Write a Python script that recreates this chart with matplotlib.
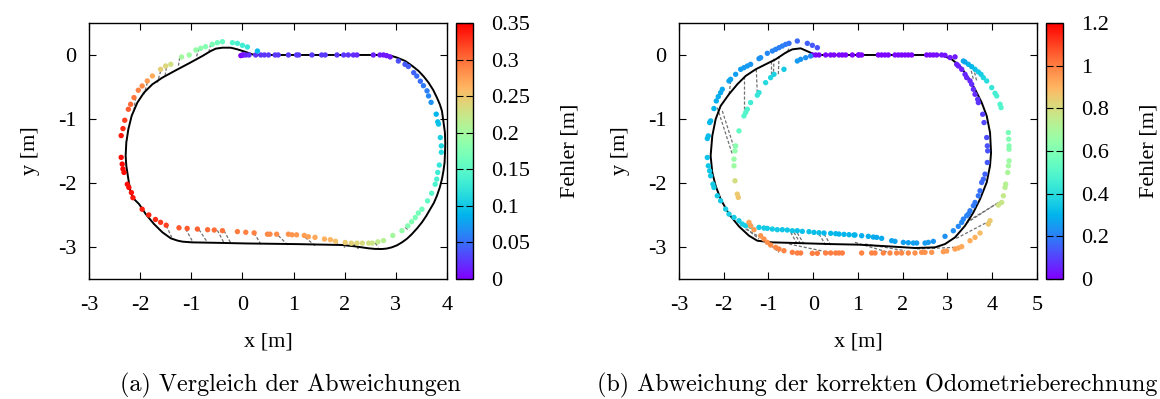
import matplotlib
matplotlib.use("Agg")
import matplotlib.pyplot as plt
import numpy as np

plt.rcParams['font.family'] = ['Liberation Serif', 'DejaVu Serif']
plt.rcParams['axes.unicode_minus'] = False

# ---------------- Panel (a) ----------------
track_a_x = [0.26, 0.196, 0.066, -0.097, -0.228, -0.39, -0.52, -0.619, -0.782, -1.043, -1.304,
             -1.565, -1.76, -1.924, -2.054, -2.165, -2.23, -2.27, -2.283, -2.27, -2.23, -2.185,
             -2.12, -2.02, -1.89, -1.73, -1.565, -1.40, -1.27, -1.17, -0.98, -0.5, 0.085, 1.06,
             1.945, 2.2, 2.33, 2.46, 2.59, 2.725, 2.82, 2.92, 3.02, 3.12, 3.22, 3.315, 3.415,
             3.51, 3.595, 3.673, 3.745, 3.804, 3.86, 3.902, 3.932, 3.954, 3.962, 3.967, 3.96,
             3.934, 3.902, 3.86, 3.804, 3.73, 3.64, 3.55, 3.445, 3.32, 3.184, 3.02, 2.923, 2.83,
             0.26]
track_a_y = [0.0, 0.01, 0.047, 0.088, 0.114, 0.114, 0.099, 0.062, -0.016, -0.13, -0.24,
             -0.354, -0.458, -0.588, -0.744, -0.95, -1.16, -1.368, -1.576, -1.73, -1.94, -2.15,
             -2.25, -2.33, -2.486, -2.64, -2.77, -2.865, -2.90, -2.917, -2.928, -2.935, -2.945,
             -2.955, -2.969, -2.99, -3.005, -3.02, -3.03, -3.032, -3.025, -3.006, -2.975, -2.928,
             -2.87, -2.798, -2.71, -2.616, -2.515, -2.408, -2.31, -2.2, -2.07, -1.94, -1.81,
             -1.68, -1.53, -1.368, -1.21, -1.056, -0.874, -0.77, -0.666, -0.545, -0.432, -0.34,
             -0.25, -0.17, -0.094, -0.04, -0.016, 0.0, 0.0]

pts_a_x = [-0.03, 0.0, 0.02, 0.07, 0.13, 0.26, 0.36, 0.43, 0.51, 0.64, 0.70, 0.90, 1.06, 1.10,
           1.36, 1.55, 1.62, 1.85, 1.98, 2.07, 2.17, 2.24, 2.56, 2.69, 2.76, 2.82, 2.89,
           3.05, 3.18, 3.245, 3.35, 3.41, 3.48, 3.54, 3.61, 3.64, 3.69, 3.79, 3.82, 3.835, 3.87,
           3.89, 3.89, 3.85, 3.82, 3.80, 3.77, 3.70, 3.62, 3.51, 3.44, 3.38, 3.31, 3.235, 3.12,
           2.94, 2.76, 2.65, 2.54, 2.47, 2.345, 2.24, 2.13, 2.01, 1.82, 1.72, 1.605, 1.42, 1.29,
           1.21, 1.06, 0.97, 0.90, 0.67, 0.54,
           0.49, 0.23, 0.066, -0.097, -0.39, -0.55, -0.68, -0.88, -1.08, -1.24, -1.49, -1.60,
           -1.70, -1.83, -1.96, -2.14, -2.17, -2.22, -2.25, -2.315, -2.335, -2.35, -2.37, -2.37,
           -2.335, -2.30, -2.23, -2.185, -2.12, -2.035, -1.96, -1.86, -1.76, -1.60, -1.50, -1.40,
           -1.19, -1.04, -0.91, -0.815, -0.72, -0.59, -0.49, -0.39, -0.195, -0.097, 0.0, 0.098,
           0.294]
pts_a_y = [-0.01, 0.0, 0.0, 0.0, 0.0, 0.0, 0.0, 0.0, 0.0, 0.0, 0.0, 0.0, 0.0, 0.0,
           0.0, 0.0, 0.0, 0.0, 0.0, 0.0, 0.0, 0.0, 0.0, 0.0, 0.0, -0.01, -0.03,
           -0.094, -0.146, -0.18, -0.276, -0.33, -0.41, -0.48, -0.56, -0.64, -0.74, -0.925, -1.045,
           -1.08, -1.29, -1.42, -1.52, -1.72, -1.835, -1.94, -2.02, -2.16, -2.28, -2.41, -2.47,
           -2.54, -2.605, -2.67, -2.745, -2.82, -2.90, -2.92, -2.94, -2.94, -2.94, -2.94, -2.94,
           -2.93, -2.91, -2.886, -2.876, -2.85, -2.84, -2.82, -2.81, -2.81, -2.80, -2.80, -2.80,
           -2.80, -2.78, -2.77, -2.76, -2.745, -2.735, -2.73, -2.72, -2.71, -2.70, -2.66, -2.615,
           -2.57, -2.50, -2.41, -2.23, -2.15, -2.07, -2.02, -1.835, -1.78, -1.705, -1.60, -1.26,
           -1.15, -1.02, -0.848, -0.77, -0.666, -0.551, -0.484, -0.406, -0.328, -0.224, -0.172,
           -0.146, -0.031, 0.0, 0.078, 0.104, 0.130, 0.166, 0.192, 0.208, 0.192, 0.182, 0.151,
           0.125, 0.062]
err_a = [0.002, 0.004, 0.008, 0.015, 0.02, 0.022, 0.024, 0.024, 0.025, 0.025, 0.025, 0.026,
         0.026, 0.026, 0.026, 0.026, 0.026, 0.025, 0.024, 0.022, 0.02, 0.018, 0.015, 0.012,
         0.01, 0.01, 0.012,
         0.035, 0.04, 0.042, 0.045, 0.048, 0.05, 0.055, 0.058, 0.062, 0.068, 0.088, 0.093,
         0.096, 0.108, 0.112, 0.116, 0.125, 0.13, 0.137, 0.14, 0.148, 0.155, 0.163, 0.167,
         0.172, 0.176, 0.18, 0.19, 0.2, 0.212, 0.22, 0.225, 0.23, 0.235, 0.238, 0.242, 0.248,
         0.255, 0.26, 0.265, 0.27, 0.273, 0.275, 0.278, 0.28, 0.282, 0.285, 0.286,
         0.287, 0.29, 0.29, 0.293, 0.297, 0.3, 0.3, 0.305, 0.31, 0.31, 0.32, 0.325, 0.33,
         0.333, 0.336, 0.34, 0.342, 0.345, 0.345, 0.345, 0.345, 0.345, 0.345, 0.338, 0.332,
         0.322, 0.308, 0.302, 0.296, 0.29, 0.285, 0.277, 0.267, 0.245, 0.238, 0.23, 0.2,
         0.195, 0.19, 0.183, 0.178, 0.172, 0.165, 0.158, 0.145, 0.138, 0.133, 0.127, 0.092]

dash_a_x0 = [-0.619, -0.847, -1.226, -1.487, -1.597, -1.858, -2.087, -1.487, -1.108, -0.847,
             -0.489, -0.358, 0.229, 0.705, 1.227, 1.814, 2.173, 2.597, 3.184]
dash_a_y0 = [0.166, 0.099, -0.042, -0.198, -0.25, -0.432, -0.666, -2.668, -2.72, -2.73,
             -2.74, -2.746, -2.782, -2.824, -2.85, -2.917, -2.954, -2.938, -2.694]
dash_a_x1 = [-0.652, -0.90, -1.252, -1.513, -1.663, -1.924, -2.12, -1.382, -0.965, -0.684,
             -0.358, -0.228, 0.359, 0.888, 1.423, 2.01, 2.27, 2.662, 3.262]
dash_a_y1 = [0.062, -0.031, -0.172, -0.328, -0.432, -0.614, -0.848, -2.85, -2.928, -2.928,
             -2.938, -2.938, -2.954, -2.969, -2.98, -3.006, -3.03, -3.006, -2.746]

# ---------------- Panel (b) ----------------
track_b_x = [0.055, -0.094, -0.28, -0.466, -0.615, -0.839, -1.063, -1.286, -1.51, -1.696, -1.882,
             -2.069, -2.18, -2.255, -2.292, -2.255, -2.18, -2.069, -1.882, -1.659, -1.435, -1.249,
             -0.914, -0.392, 0.353, 1.024, 1.68, 2.276, 2.723, 2.946, 3.17, 3.394, 3.58, 3.729,
             3.878, 3.952, 3.975, 3.952, 3.878, 3.766, 3.617, 3.468, 3.282, 3.096, 2.872, 0.055]
track_b_y = [0.0, 0.047, 0.104, 0.088, 0.036, -0.068, -0.146, -0.224, -0.328, -0.458, -0.614,
             -0.796, -1.004, -1.264, -1.576, -1.836, -2.044, -2.252, -2.486, -2.678, -2.824, -2.902,
             -2.928, -2.938, -2.954, -2.964, -2.99, -3.016, -3.006, -2.954, -2.85, -2.668, -2.46,
             -2.252, -1.99, -1.732, -1.524, -1.212, -0.952, -0.744, -0.536, -0.354, -0.172, -0.068,
             0.0, 0.0]

pts_b_x = [-0.019, 0.055, 0.13, 0.279, 0.39, 0.465, 0.577, 0.651, 0.726, 0.875, 1.024, 1.009,
           1.083, 1.456, 1.53, 1.605, 1.679, 1.828, 1.903, 1.977, 2.052, 2.126, 2.201, 2.536,
           2.611, 2.685, 2.76, 2.872, 2.946, 3.058, 3.17,
           # outer upper-left arc
           0.093, -0.019, -0.131, -0.355, -0.541, -0.615, -0.69, -0.764, -0.839, -0.913, -1.025,
           -1.174, -1.211, -1.398, -1.472, -1.547, -1.621, -1.733, -1.845, -1.882, -2.031, -2.069,
           -2.121, -2.165, -2.218, -2.292, -2.314, -2.344, -2.366, -2.366, -2.344, -2.314, -2.292,
           -2.24, -2.218, -2.143, -2.069, -1.957, -1.882, -1.77, -1.659,
           # inner upper branch
           -0.355, -0.28, -0.168, -0.057, -0.653, -0.876, -0.951, -1.063, -1.211, -1.249, -1.398,
           -1.472, -1.51, -1.547, -1.659, -1.733, -1.748, -1.77, -1.77, -1.748, -1.696, -1.674,
           # bottom upper row
           -1.584, -1.51, -1.398, -1.211, -1.1, -1.025, -0.913, -0.802, -0.69, -0.578, -0.466,
           -0.355, -0.243, -0.094, 0.018, 0.13, 0.242, 0.391, 0.503, 0.577, 0.689, 0.801, 0.912,
           0.934, 1.083, 1.232, 1.344, 1.418, 1.53, 1.754, 1.828, 2.015, 2.126, 2.238, 2.313,
           2.499, 2.573, 2.685, 2.946,
           # bottom lower row
           -1.435, -1.398, -1.323, -1.174, -1.1, -1.025, -0.951, -0.839, -0.764, -0.653, -0.466,
           -0.355, -0.28, -0.019, 0.093, 0.279, 0.391, 0.503, 0.577, 0.651, 1.083, 1.307, 1.381,
           1.567, 1.716, 1.865, 1.977, 2.126, 2.275, 2.424, 2.499, 2.648, 2.909, 2.983, 3.17,
           3.244, 3.319,
           # right outer arc
           3.505, 3.617, 3.729, 3.915, 3.952, 4.138, 4.213, 4.25, 4.287, 4.302, 4.347, 4.362,
           4.377, 4.377, 4.377, 4.369, 4.362, 4.198, 4.176, 4.101, 4.064, 3.989, 3.878, 3.803,
           3.751, 3.691, 3.617, 3.542, 3.468, 3.393, 3.356,
           # right inner arc
           3.207, 3.244, 3.319, 3.393, 3.43, 3.505, 3.542, 3.58, 3.617, 3.676, 3.691, 3.788,
           3.818, 3.878, 3.892, 3.9, 3.892, 3.84, 3.803, 3.766, 3.729, 3.691, 3.617, 3.58, 3.505,
           3.468, 3.43, 3.356, 3.319, 3.244, 3.132]
pts_b_y = [0.0, 0.0, 0.0, 0.0, 0.0, 0.0, 0.0, 0.0, 0.0, 0.0, 0.0, 0.0,
           0.0, 0.0, 0.0, 0.0, 0.0, 0.0, 0.0, 0.0, 0.0, 0.0, 0.0, 0.0,
           0.0, 0.0, 0.0, 0.0, -0.005, -0.04, -0.03,
           0.114, 0.151, 0.182, 0.218, 0.182, 0.166, 0.14, 0.114, 0.088, 0.062, 0.026,
           -0.042, -0.057, -0.146, -0.172, -0.198, -0.224, -0.302, -0.38, -0.406, -0.536, -0.588,
           -0.65, -0.718, -0.837, -1.03, -1.056, -1.264, -1.305, -1.602, -1.732, -1.81, -1.888,
           -2.018, -2.07, -2.2, -2.278, -2.408, -2.486, -2.538, -2.59,
           -0.094, -0.068, -0.042, -0.016, -0.224, -0.302, -0.354, -0.432, -0.588, -0.629, -0.744,
           -0.848, -0.9, -0.952, -1.186, -1.42, -1.498, -1.628, -1.732, -1.966, -2.174, -2.226,
           -2.642, -2.668, -2.678, -2.694, -2.704, -2.709, -2.72, -2.73, -2.73, -2.735, -2.746,
           -2.746, -2.756, -2.761, -2.772, -2.777, -2.782, -2.787, -2.792, -2.798, -2.803, -2.808,
           -2.813, -2.813, -2.824, -2.834, -2.845, -2.85, -2.865, -2.902, -2.912, -2.928, -2.933,
           -2.938, -2.938, -2.938, -2.928, -2.912, -2.834,
           -2.616, -2.668, -2.73, -2.824, -2.876, -2.928, -2.969, -3.006, -3.032, -3.058, -3.084,
           -3.094, -3.094, -3.099, -3.099, -3.094, -3.094, -3.094, -3.094, -3.094, -3.094, -3.094,
           -3.094, -3.094, -3.094, -3.094, -3.094, -3.094, -3.094, -3.084, -3.084, -3.084, -3.073,
           -3.063, -3.032, -3.016, -2.995,
           -2.902, -2.85, -2.782, -2.642, -2.59, -2.345, -2.304, -2.2, -2.07, -2.018, -1.836,
           -1.732, -1.654, -1.472, -1.42, -1.316, -1.212, -0.822, -0.77, -0.64, -0.598, -0.51,
           -0.406, -0.354, -0.302, -0.265, -0.224, -0.182, -0.146, -0.109, -0.094,
           -0.146, -0.172, -0.224, -0.302, -0.354, -0.406, -0.458, -0.536, -0.614, -0.692, -0.744,
           -0.926, -1.056, -1.29, -1.42, -1.498, -1.68, -1.862, -1.94, -1.992, -2.122, -2.2,
           -2.304, -2.356, -2.434, -2.486, -2.512, -2.564, -2.616, -2.678, -2.746]
err_b = [0.005, 0.005, 0.01, 0.01, 0.01, 0.01, 0.01, 0.01, 0.01, 0.01, 0.01, 0.01,
         0.01, 0.01, 0.01, 0.01, 0.01, 0.01, 0.01, 0.01, 0.01, 0.01, 0.01, 0.02,
         0.02, 0.02, 0.02, 0.03, 0.03, 0.04, 0.04,
         0.13, 0.14, 0.15, 0.16, 0.18, 0.19, 0.2, 0.2, 0.21, 0.21, 0.22,
         0.23, 0.23, 0.24, 0.25, 0.25, 0.26, 0.26, 0.27, 0.27, 0.28, 0.28,
         0.29, 0.29, 0.3, 0.31, 0.31, 0.32, 0.32, 0.33, 0.34, 0.34, 0.34,
         0.35, 0.35, 0.35, 0.35, 0.36, 0.36, 0.36, 0.36,
         0.25, 0.24, 0.23, 0.22, 0.35, 0.37, 0.38, 0.39, 0.42, 0.43, 0.45,
         0.48, 0.49, 0.5, 0.53, 0.62, 0.64, 0.66, 0.67, 0.8, 0.85, 0.86,
         0.36, 0.36, 0.36, 0.35, 0.35, 0.35, 0.35, 0.35, 0.34, 0.34, 0.34,
         0.33, 0.33, 0.33, 0.32, 0.32, 0.31, 0.31, 0.31, 0.3, 0.3, 0.3, 0.3,
         0.3, 0.29, 0.29, 0.28, 0.28, 0.28, 0.27, 0.27, 0.26, 0.26, 0.26, 0.25,
         0.25, 0.25, 0.24, 0.23,
         0.93, 0.94, 0.95, 0.96, 0.97, 0.97, 0.98, 0.98, 0.99, 0.99, 1.0,
         1.0, 1.0, 1.0, 1.0, 1.0, 1.0, 1.0, 1.0, 1.0, 0.99, 0.99, 0.99,
         0.99, 0.98, 0.98, 0.98, 0.98, 0.97, 0.97, 0.97, 0.96, 0.95, 0.95, 0.94,
         0.93, 0.92,
         0.91, 0.9, 0.88, 0.86, 0.85, 0.78, 0.77, 0.76, 0.74, 0.73, 0.7, 0.68,
         0.67, 0.62, 0.61, 0.6, 0.58, 0.5, 0.49, 0.47, 0.46, 0.43, 0.4, 0.38,
         0.36, 0.35, 0.33, 0.31, 0.3, 0.28, 0.27,
         0.05, 0.05, 0.05, 0.06, 0.06, 0.06, 0.07, 0.07, 0.07, 0.08, 0.08, 0.1,
         0.11, 0.12, 0.13, 0.13, 0.14, 0.15, 0.16, 0.16, 0.17, 0.18, 0.19, 0.19, 0.2,
         0.2, 0.21, 0.21, 0.22, 0.22, 0.23]

dash_b_x0 = [-0.541, -0.764, -0.876, -0.951, -1.271, -1.547, -1.845, -2.031, -2.143, -1.659,
             -1.51, -1.211, -0.503, -0.429, -0.355, 0.13, 0.242, -0.541, 0.934, 1.158, 4.138,
             4.213, 3.952, 3.17, 3.505, 3.58]
dash_b_y0 = [0.099, -0.016, -0.057, -0.094, -0.224, -0.328, -0.406, -0.874, -0.822, -2.616,
             -2.72, -2.824, -2.772, -2.772, -2.782, -2.798, -2.798, -2.954, -2.928, -2.954,
             -2.304, -2.278, -2.59, -3.006, -0.172, -0.198]
dash_b_x1 = [-0.6, -0.779, -0.891, -0.951, -1.249, -1.547, -1.882, -1.77, -1.808, -1.211,
             -0.913, -0.764, -0.355, -0.28, -0.206, 0.279, 0.391, 0.353, 1.679, 2.052, 3.393,
             3.468, 3.17, 2.275, 3.58, 3.654]
dash_b_y1 = [0.026, -0.302, -0.328, -0.354, -0.614, -0.926, -0.64, -1.446, -1.55, -2.876,
             -2.954, -3.084, -2.954, -2.954, -2.954, -2.969, -2.969, -3.084, -3.084, -3.058,
             -2.642, -2.59, -2.876, -3.032, -0.38, -0.406]

xticks_a = [-3, -2, -1, 0, 1, 2, 3, 4]
xticks_b = [-3, -2, -1, 0, 1, 2, 3, 4, 5]
yticks = [-3, -2, -1, 0]
cb_ticks_a = [0, 0.05, 0.1, 0.15, 0.2, 0.25, 0.3, 0.35]
cb_labels_a = ["0", "0.05", "0.1", "0.15", "0.2", "0.25", "0.3", "0.35"]
cb_ticks_b = [0, 0.2, 0.4, 0.6, 0.8, 1.0, 1.2]
cb_labels_b = ["0", "0.2", "0.4", "0.6", "0.8", "1", "1.2"]
caption_a = "(a) Vergleich der Abweichungen"
caption_b = "(b) Abweichung der korrekten Odometrieberechnung"

FS = 16
fig = plt.figure(figsize=(11.6, 3.99), dpi=100)


def panel(rect, crect, tx, ty, px, py, err, d0x, d0y, d1x, d1y, xlim, xticks, vmax, cbt, cbl):
    ax = fig.add_axes(rect)
    for a, b, c, d in zip(d0x, d0y, d1x, d1y):
        ax.plot([a, c], [b, d], ls=(0, (2.5, 1.5)), color='#707070', lw=0.9, zorder=1)
    ax.plot(tx, ty, color='black', lw=1.4, zorder=2)
    sc = ax.scatter(px, py, c=err, cmap='rainbow', vmin=0, vmax=vmax, s=15,
                    linewidths=0, zorder=3)
    ax.set_xlim(*xlim)
    ax.set_ylim(-3.5, 0.5)
    ax.set_xticks(xticks)
    ax.set_xticklabels([str(t) for t in xticks])
    ax.set_yticks(yticks)
    ax.set_yticklabels([str(t) for t in yticks])
    ax.tick_params(direction='in', top=True, right=True, length=5, width=0.8,
                   labelsize=FS)
    ax.tick_params(axis='x', pad=12)
    ax.tick_params(axis='y', pad=9)
    for s in ax.spines.values():
        s.set_linewidth(1.0)
    ax.set_xlabel("x [m]", fontsize=FS, labelpad=13)
    ax.set_ylabel("y [m]", fontsize=FS, labelpad=13)
    cax = fig.add_axes(crect)
    cb = fig.colorbar(sc, cax=cax)
    cb.set_ticks(cbt)
    cb.set_ticklabels(cbl)
    cax.tick_params(direction='in', left=True, right=True, length=5, width=0.8,
                    labelsize=FS, pad=13)
    cb.outline.set_linewidth(1.0)
    cb.set_label("Fehler [m]", fontsize=FS, labelpad=22)
    return ax


panel([0.0767, 0.3008, 0.3086, 0.6416], [0.3931, 0.3008, 0.01466, 0.6416],
      track_a_x, track_a_y, pts_a_x, pts_a_y, err_a,
      dash_a_x0, dash_a_y0, dash_a_x1, dash_a_y1, (-3, 4), xticks_a, 0.35,
      cb_ticks_a, cb_labels_a)
panel([0.5853, 0.3008, 0.3086, 0.6416], [0.9017, 0.3008, 0.01466, 0.6416],
      track_b_x, track_b_y, pts_b_x, pts_b_y, err_b,
      dash_b_x0, dash_b_y0, dash_b_x1, dash_b_y1, (-3, 5), xticks_b, 1.2,
      cb_ticks_b, cb_labels_b)

fig.text(0.25, 0.02, caption_a, family='cmr10', fontsize=17.4, ha='center', va='baseline')
fig.text(0.5147, 0.02, caption_b, family='cmr10', fontsize=17.4, ha='left', va='baseline')

fig.savefig("out.png", dpi=100)
